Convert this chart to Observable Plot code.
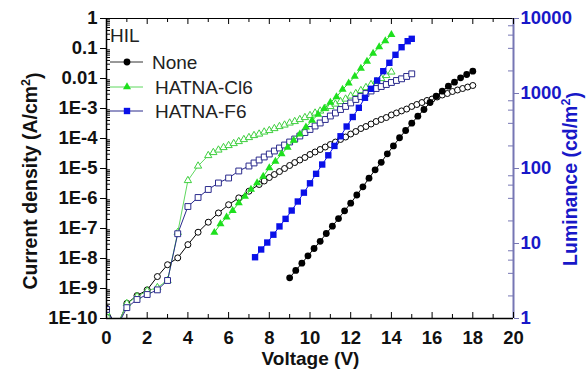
<!DOCTYPE html>
<html><head><meta charset="utf-8">
<script src="https://cdn.jsdelivr.net/npm/d3@7"></script>
<script src="https://cdn.jsdelivr.net/npm/@observablehq/plot@0.6"></script>
<style>body{margin:0;background:#fff} svg{display:block}</style>
</head><body><div id="chart"></div>
<script>
// ---- Data ----
// Current density J (A/cm^2), open symbols, left axis
const vNoneJ = [0,0.5,1,1.5,2,2.5,3,3.5,4,4.5,5,5.5,6,6.5,7,7.5,7.75,8,8.25,8.5,8.75,9,9.25,9.5,9.75,10,10.25,10.5,10.75,11,11.25,11.5,11.75,12,12.25,12.5,12.75,13,13.25,13.5,13.75,14,14.25,14.5,14.75,15,15.25,15.5,15.75,16,16.25,16.5,16.75,17,17.25,17.5,17.75,18];
const jNone = [2.2e-10,5e-11,3.2e-10,5.8e-10,9.0e-10,2.5e-9,6.2e-9,1.05e-8,2.9e-8,7.5e-8,1.62e-7,3.3e-7,6.2e-7,1.05e-6,1.75e-6,2.93e-6,3.83e-6,5.0e-6,6.3e-6,7.9e-6,1.0e-5,1.26e-5,1.58e-5,1.92e-5,2.33e-5,2.93e-5,3.55e-5,4.3e-5,5.2e-5,6.3e-5,7.6e-5,9.3e-5,1.12e-4,1.41e-4,1.71e-4,2.15e-4,2.51e-4,3.04e-4,3.69e-4,4.3e-4,5.0e-4,6.1e-4,7.1e-4,8.3e-4,9.6e-4,1.17e-3,1.36e-3,1.58e-3,1.85e-3,2.07e-3,2.42e-3,2.82e-3,3.16e-3,3.69e-3,4.14e-3,4.64e-3,5.2e-3,5.85e-3];

const vCl6J = [0,0.5,1,1.5,2,2.5,3,3.5,4,4.5,5,5.25,5.5,5.75,6,6.25,6.5,6.75,7,7.25,7.5,7.75,8,8.25,8.5,8.75,9,9.25,9.5,9.75,10,10.25,10.5,10.75,11,11.25,11.5,11.75,12,12.25,12.5,12.75,13,13.25,13.5,13.75,14];
const jCl6 = [1.6e-10,5e-11,3.16e-10,5.4e-10,8.3e-10,1.08e-9,1.85e-9,7.4e-8,3.98e-6,1.21e-5,2.71e-5,3.42e-5,4.14e-5,5.01e-5,5.85e-5,6.81e-5,7.94e-5,9.26e-5,1.08e-4,1.26e-4,1.41e-4,1.65e-4,1.85e-4,2.15e-4,2.51e-4,2.82e-4,3.29e-4,3.69e-4,4.3e-4,5.01e-4,5.85e-4,7.08e-4,8.26e-4,1.0e-3,1.17e-3,1.41e-3,1.71e-3,2.07e-3,2.61e-3,3.16e-3,3.98e-3,5.01e-3,6.31e-3,7.94e-3,1.0e-2,1.26e-2,1.65e-2];

const vF6J = [0,0.5,1,1.5,2,2.5,3,3.5,4,4.5,5,5.5,6,6.5,7,7.25,7.5,7.75,8,8.25,8.5,8.75,9,9.25,9.5,9.75,10,10.25,10.5,10.75,11,11.25,11.5,11.75,12,12.25,12.5,12.75,13,13.25,13.5,13.75,14,14.25,14.5,14.75,15];
const jF6 = [2.0e-10,5e-11,2.3e-10,4.3e-10,6.3e-10,9.0e-10,1.85e-9,6.7e-8,5.4e-7,1.08e-6,2.0e-6,3.29e-6,4.82e-6,8.26e-6,1.21e-5,1.53e-5,1.92e-5,2.42e-5,3.04e-5,3.83e-5,4.82e-5,6.07e-5,7.64e-5,9.62e-5,1.21e-4,1.58e-4,2.0e-4,2.61e-4,3.29e-4,4.3e-4,5.62e-4,7.08e-4,9.26e-4,1.17e-3,1.53e-3,2.0e-3,2.51e-3,3.16e-3,3.83e-3,4.64e-3,5.41e-3,6.31e-3,7.36e-3,8.58e-3,9.77e-3,1.17e-2,1.43e-2];

// Luminance L (cd/m^2), filled symbols, right axis
const vNoneL = [9.0,9.3,9.6,9.9,10.2,10.5,10.8,11.1,11.4,11.7,12.0,12.3,12.6,12.9,13.2,13.5,13.8,14.1,14.4,14.7,15.0,15.3,15.6,15.9,16.2,16.5,16.8,17.1,17.4,17.7,18.0];
const lNone = [3.49,4.37,5.46,6.85,8.58,10.7,13.6,17.0,21.5,27.3,34.5,44.3,57.0,74.3,96.1,121,157,200,257,321,402,498,612,759,920,1074,1251,1415,1620,1792,1983];

const vCl6L = [5.3,5.6,5.9,6.2,6.5,6.8,7.1,7.4,7.7,8.0,8.3,8.6,8.9,9.2,9.5,9.8,10.1,10.4,10.7,11.0,11.3,11.6,11.9,12.2,12.5,12.8,13.1,13.4,13.7,14.0];
const lCl6 = [14.0,18.2,22.4,27.5,34.7,42.3,52.5,64.1,78.2,102,124,156,191,236,288,357,437,525,631,759,898,1130,1371,1686,2154,2671,3415,4169,5012,6081];

const vF6L = [7.3,7.6,7.9,8.2,8.5,8.8,9.1,9.4,9.7,10.0,10.3,10.6,10.9,11.2,11.5,11.8,12.1,12.4,12.7,13.0,13.3,13.6,13.9,14.2,14.5,14.8,15.0];
const lF6 = [6.56,8.32,10.3,13.1,16.9,21.3,27.5,36.3,47.6,63.5,84.9,113,150,200,269,363,486,645,877,1155,1490,1983,2567,3281,4143,4982,5361];

// Axis ticks
const xMajor = [0,2,4,6,8,10,12,14,16,18,20];
const xMinor = [1,3,5,7,9,11,13,15,17,19];
const yMajor = [1,0.1,0.01,1e-3,1e-4,1e-5,1e-6,1e-7,1e-8,1e-9,1e-10];
const yLabels = ["1","0.1","0.01","1E-3","1E-4","1E-5","1E-6","1E-7","1E-8","1E-9","1E-10"];
const lumMajor = [1,10,100,1000,10000];
const lumMinorMult = [2,4,6,8];

const legendNames = ["None","HATNA-Cl6","HATNA-F6"];
const seriesColors = {
  none: {line:"#000000", open:"#000000", fill:"#000000"},
  cl6: {line:"#5fd85f", open:"#3fcf3f", fill:"#1ee01e"},
  f6: {line:"#2a2a8c", open:"#2a2a8c", fill:"#0a10e8"}
};

// ---- Helpers ----
// Right axis (1..10000, 4 decades) shares the pixel range with left axis (1e-10..1, 10 decades)
const lumToJ = L => Math.pow(L / 1e4, 2.5);
const jToLum = J => 1e4 * Math.pow(J, 0.4);
const rows = (v, y, f = d => d) => v.map((x, i) => ({x, y: f(y[i])}));

const yMinor = [];
for (let e = -10; e < 0; e++) for (let m = 2; m <= 9; m++) yMinor.push(m * Math.pow(10, e));
const rMinor = [];
for (const L of lumMajor.slice(0, 4)) for (const m of lumMinorMult) rMinor.push(lumToJ(L * m));

const W = 587, H = 371, mL = 106, mR = 74, mT = 18, mB = 53;
const pw = W - mL - mR, ph = H - mT - mB;
const rightColor = "#1818c8";
const rightAxisColor = "#7676b4";

const dNoneJ = rows(vNoneJ, jNone), dCl6J = rows(vCl6J, jCl6), dF6J = rows(vF6J, jF6);
const dNoneL = rows(vNoneL, lNone, lumToJ), dCl6L = rows(vCl6L, lCl6, lumToJ), dF6L = rows(vF6L, lF6, lumToJ);

const plot = Plot.plot({
  width: W, height: H,
  marginLeft: mL, marginRight: mR, marginTop: mT, marginBottom: mB,
  style: {fontFamily: "'Liberation Sans', Arial, sans-serif", fontSize: "18.5px", fontWeight: "bold", background: "#fff", overflow: "visible"},
  x: {domain: [0, 20], axis: null, label: null},
  y: {type: "log", domain: [1e-10, 1], axis: null, label: null},
  marks: [
    // current density (open)
    Plot.line(dNoneJ, {x: "x", y: "y", stroke: seriesColors.none.line, strokeWidth: 1, clip: true}),
    Plot.line(dCl6J, {x: "x", y: "y", stroke: seriesColors.cl6.line, strokeWidth: 1, clip: true}),
    Plot.line(dF6J, {x: "x", y: "y", stroke: seriesColors.f6.line, strokeWidth: 1, clip: true}),
    Plot.dot(dNoneJ, {x: "x", y: "y", r: 3, symbol: "circle", stroke: seriesColors.none.open, fill: "#fff", strokeWidth: 1, clip: true}),
    Plot.dot(dCl6J, {x: "x", y: "y", r: 2.7, symbol: "triangle", stroke: seriesColors.cl6.open, fill: "#fff", strokeWidth: 1, clip: true}),
    Plot.dot(dF6J, {x: "x", y: "y", r: 3.3, symbol: "square", stroke: seriesColors.f6.open, fill: "#fff", strokeWidth: 1, clip: true}),
    // luminance (filled)
    Plot.line(dNoneL, {x: "x", y: "y", stroke: seriesColors.none.fill, strokeWidth: 1, clip: true}),
    Plot.line(dCl6L, {x: "x", y: "y", stroke: seriesColors.cl6.fill, strokeWidth: 1, clip: true}),
    Plot.line(dF6L, {x: "x", y: "y", stroke: seriesColors.f6.fill, strokeWidth: 1, clip: true}),
    Plot.dot(dNoneL, {x: "x", y: "y", r: 3.4, symbol: "circle", fill: seriesColors.none.fill, clip: true}),
    Plot.dot(dCl6L, {x: "x", y: "y", r: 3, symbol: "triangle", fill: seriesColors.cl6.fill, clip: true}),
    Plot.dot(dF6L, {x: "x", y: "y", r: 3.6, symbol: "square", fill: seriesColors.f6.fill, clip: true}),
    // frame
    Plot.ruleY([1e-10], {stroke: "#000", strokeWidth: 1.5}),
    Plot.ruleY([1], {stroke: "#000", strokeWidth: 1.2}),
    Plot.ruleX([0], {stroke: "#000", strokeWidth: 1.5}),
    Plot.ruleX([20], {stroke: rightAxisColor, strokeWidth: 2}),
    // x ticks (inward, bottom and top)
    Plot.ruleX(xMajor, {x: d => d, insetTop: ph - 6, stroke: "#000"}),
    Plot.ruleX(xMinor, {x: d => d, insetTop: ph - 4, stroke: "#000"}),
    Plot.ruleX(xMajor, {x: d => d, insetBottom: ph - 6, stroke: "#000"}),
    Plot.ruleX(xMinor, {x: d => d, insetBottom: ph - 4, stroke: "#000"}),
    Plot.axisX({anchor: "bottom", ticks: xMajor, tickSize: 0, tickPadding: 12, tickFormat: d => String(d), label: null, fill: "#111"}),
    // left y axis: major outward, minor inward
    Plot.axisY({anchor: "left", ticks: yMajor, tickSize: 6, tickPadding: 3, tickFormat: d => yLabels[yMajor.indexOf(d)], label: null, fill: "#111"}),
    Plot.ruleY(yMinor, {y: d => d, insetRight: pw - 4, stroke: "#000"}),
    // right y axis (luminance)
    Plot.axisY({anchor: "right", ticks: lumMajor.map(lumToJ), tickSize: 5, tickPadding: 2, tickFormat: d => String(Math.round(jToLum(d))), label: null, color: rightColor, stroke: rightAxisColor}),
    Plot.ruleY(rMinor, {y: d => d, insetLeft: pw - 5, stroke: rightAxisColor})
  ]
});

document.getElementById("chart").appendChild(plot);

// ---- Titles and legend ----
const svg = d3.select(plot);
const ff = "'Liberation Sans', Arial, sans-serif";

function title(x, y, txt, color) {
  const t = svg.append("text").attr("transform", `translate(${x},${y}) rotate(-90)`)
    .attr("text-anchor", "middle").attr("font-family", ff).attr("font-size", 19.5)
    .attr("font-weight", "bold").attr("fill", color);
  t.append("tspan").text(txt);
  t.append("tspan").attr("dy", "-0.55em").attr("font-size", 12.5).text("2");
  t.append("tspan").attr("dy", "0.55em").text(")");
}
title(37, 181, "Current density (A/cm", "#111");
title(577, 179, "Luminance (cd/m", rightColor);

svg.append("text").attr("x", mL + pw / 2 + 1).attr("y", 365).attr("text-anchor", "middle")
  .attr("font-family", ff).attr("font-size", 19).attr("font-weight", "bold").attr("fill", "#111")
  .text("Voltage (V)");

const lg = svg.append("g").attr("font-family", ff).attr("font-size", 19).attr("font-weight", "normal")
  .attr("fill", "#222").attr("text-anchor", "start");
lg.append("text").attr("x", 110).attr("y", 42).text("HIL");
const legendItems = [
  {name: legendNames[0], y: 62, line: "#333", sym: d3.symbolCircle, size: Math.PI * 3.4 * 3.4, fill: seriesColors.none.fill, tx: 152},
  {name: legendNames[1], y: 87, line: seriesColors.cl6.line, sym: d3.symbolTriangle, size: Math.PI * 9, fill: seriesColors.cl6.fill, tx: 155},
  {name: legendNames[2], y: 111, line: seriesColors.f6.line, sym: d3.symbolSquare, size: Math.PI * 3.6 * 3.6, fill: seriesColors.f6.fill, tx: 155}
];
for (const it of legendItems) {
  lg.append("line").attr("x1", 110).attr("x2", 143).attr("y1", it.y).attr("y2", it.y).attr("stroke", it.line).attr("stroke-width", 1);
  lg.append("path").attr("d", d3.symbol(it.sym, it.size)()).attr("transform", `translate(127,${it.y})`).attr("fill", it.fill);
  lg.append("text").attr("x", it.tx).attr("y", it.y + 7).attr("text-anchor", "start").text(it.name);
}
</script>
</body></html>
